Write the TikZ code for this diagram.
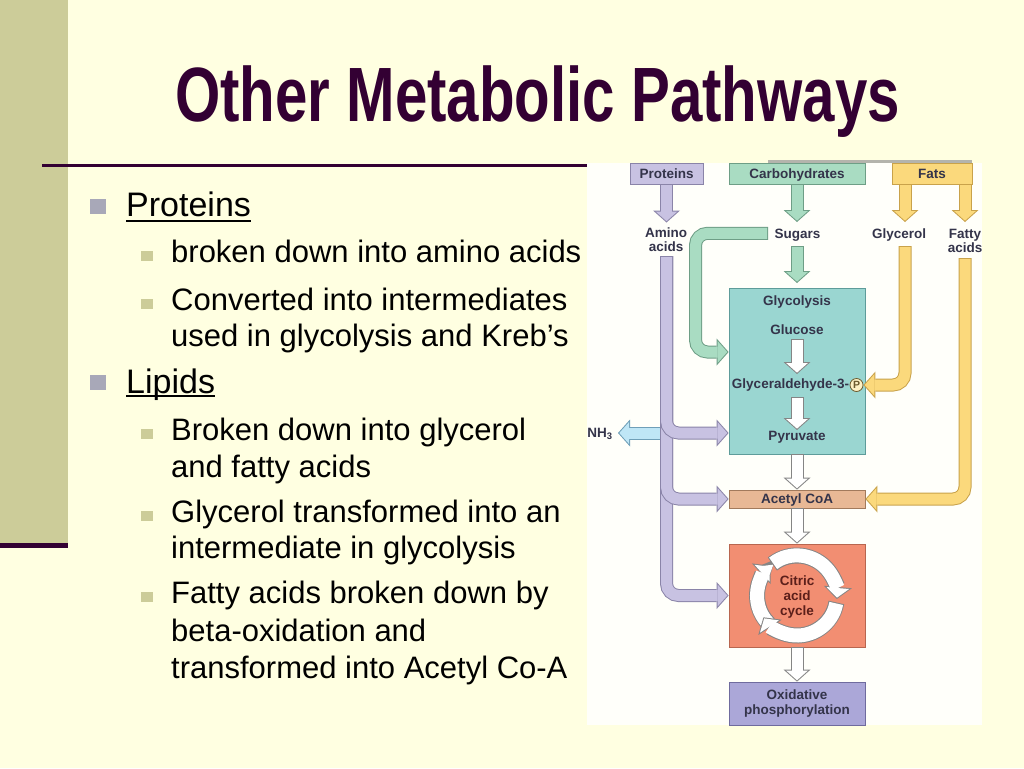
\documentclass[tikz,border=0pt]{standalone}
\usepackage{fontspec}
\usepackage{graphicx}
\setmainfont{Liberation Sans}
\usetikzlibrary{arrows.meta}

\definecolor{slidebg}{HTML}{FFFFE1}
\definecolor{barfill}{HTML}{CCCC99}
\definecolor{plum}{HTML}{330033}
\definecolor{headdot}{HTML}{A8A8B8}
\definecolor{linedot}{HTML}{CCCC99}
\definecolor{picbg}{HTML}{FFFFFA}
\definecolor{topgrey}{HTML}{B4B4AC}
\definecolor{lbltext}{HTML}{34344A}
\definecolor{citext}{HTML}{5C1F1A}
\definecolor{protfill}{HTML}{C8C2E2}
\definecolor{protline}{HTML}{8A84A8}
\definecolor{carbfill}{HTML}{A9DCC2}
\definecolor{carbline}{HTML}{6E9E86}
\definecolor{fatfill}{HTML}{FBD97C}
\definecolor{fatline}{HTML}{C9A24A}
\definecolor{glycfill}{HTML}{9AD6D1}
\definecolor{glycline}{HTML}{5E9C9A}
\definecolor{acetfill}{HTML}{E8B895}
\definecolor{acetline}{HTML}{A27A5C}
\definecolor{citfill}{HTML}{F28E72}
\definecolor{citline}{HTML}{B8664F}
\definecolor{oxfill}{HTML}{ABA7D8}
\definecolor{oxline}{HTML}{6F6B9E}
\definecolor{nhfill}{HTML}{BFE6F6}
\definecolor{nhline}{HTML}{6F9FB8}
\definecolor{whtfill}{HTML}{FFFFFF}
\definecolor{whtline}{HTML}{858585}
\definecolor{pfill}{HTML}{FDF1C4}
\definecolor{pline}{HTML}{6B5A2E}

\newcommand{\lblfont}{\bfseries\fontsize{13.5}{13.5}\selectfont}
\newcommand{\headfont}{\fontsize{34}{40}\selectfont}
\newcommand{\linefont}{\fontsize{31}{36}\selectfont}
\newcommand{\titlefnt}{\bfseries\fontsize{77}{80}\selectfont}

\tikzset{
  box/.style={draw, line width=0.8pt, inner sep=0pt, font=\lblfont, text=lbltext, align=center},
  onerow/.style={text height=9.7pt, text depth=0pt},
  lbl/.style={inner sep=0pt, font=\lblfont, text=lbltext, align=center},
  arrow back/.style={line width=13pt, rounded corners=12pt, -{Triangle[width=27pt,length=12pt,line width=0pt]}},
  arrow front/.style={line width=11pt, rounded corners=12pt, shorten <=1pt, shorten >=1.34pt, -{Triangle[width=21.7pt,length=9.66pt,line width=0pt]}},
  ring back/.style={line width=16pt, -{Triangle[width=28pt,length=12pt,line width=0pt]}},
  ring front/.style={line width=14pt, shorten <=1pt, shorten >=1.32pt, -{Triangle[width=22.6pt,length=9.68pt,line width=0pt]}},
  headline/.style={anchor=base west, inner sep=0pt, font=\headfont},
  bodyline/.style={anchor=base west, inner sep=0pt, font=\linefont},
}

\newcommand{\blockarrow}[3][arrow]{%
  \draw[#1 back, draw=#2line] #3;
  \draw[#1 front, draw=#2fill] #3;}

\begin{document}
\begin{tikzpicture}[x=1pt,y=-1pt]
	\useasboundingbox (0,0) rectangle (1024,768);
	\fill[slidebg] (0,0) rectangle (1024,768);
	\fill[barfill] (0,0) rectangle (68,543);
	\fill[plum] (0,543) rectangle (68,548);
	\draw[plum, line width=2.5pt] (42,165.5) -- (589,165.5);
	\node[anchor=base west, inner sep=0pt, text=plum, font=\titlefnt] (title) at (175,121.5) {\scalebox{0.756}[1]{Other Metabolic Pathways}};
	% bullet text
	\fill[headdot] (90,199) rectangle (106,214);
	\fill[headdot] (90,375) rectangle (106,390);
	\node[headline] (hprot) at (126,216.7) {Proteins};
	\node[headline] (hlip) at (126,393) {Lipids};
	\draw[line width=1.8pt] ([yshift=-4pt]hprot.base west) -- ([yshift=-4pt]hprot.base east);
	\draw[line width=1.8pt] ([yshift=-3pt]hlip.base west) -- ([yshift=-3pt]hlip.base east);
	\foreach \yy in {262,310,440,522,603}
		\fill[linedot] (141,\yy-11) rectangle (153,\yy-1);
	\foreach \yy/\txt [count=\i] in {262/broken down into amino acids, 310/Converted into intermediates, 346/used in glycolysis and Kreb’s, 440/Broken down into glycerol, 477/and fatty acids, 522/Glycerol transformed into an, 558/intermediate in glycolysis, 603/Fatty acids broken down by, 641/beta-oxidation and, 678/transformed into Acetyl Co-A}
		\node[bodyline] (line\i) at (171,\yy) {\txt};
	% pathway figure
	\fill[picbg] (587,163) rectangle (982,725);
	\fill[topgrey] (768,160) rectangle (972,163);
	\node[box, onerow, fill=protfill, draw=protline, minimum width=73pt, minimum height=21pt] (proteins) at (666.5,173.5) {Proteins};
	\node[box, onerow, fill=carbfill, draw=carbline, minimum width=136pt, minimum height=21pt] (carbs) at (797,173.5) {Carbohydrates};
	\node[box, onerow, fill=fatfill, draw=fatline, minimum width=80pt, minimum height=21pt] (fats) at (932,173.5) {Fats};
	\node[box, fill=glycfill, draw=glycline, minimum width=136pt, minimum height=166pt] (glycolysis) at (797,371) {};
	\node[box, onerow, fill=acetfill, draw=acetline, minimum width=136pt, minimum height=18pt] (acetyl) at (797,499) {Acetyl CoA};
	\node[box, fill=citfill, draw=citline, minimum width=136pt, minimum height=103pt] (citric) at (797,595.5) {};
	\node[box, fill=oxfill, draw=oxline, minimum width=136pt, minimum height=43pt, font=\bfseries\fontsize{13.5}{15}\selectfont] (oxphos) at (797,703.5) {Oxidative\\phosphorylation};
	\node[lbl] (amino) at (666,239.5) {Amino\\acids};
	\node[lbl] (sugars) at (797.5,235.5) {Sugars};
	\node[lbl] (glycerol) at (899,235.5) {Glycerol};
	\node[lbl] (fatty) at (965,241) {Fatty\\acids};
	\node[lbl] (glyctitle) at (797,302) {Glycolysis};
	\node[lbl] (glucose) at (797,330) {Glucose};
	\node[lbl] (g3p) at (790.5,385) {Glyceraldehyde-3-};
	\node[circle, draw=pline, fill=pfill, line width=0.8pt, inner sep=0pt, minimum size=13pt, text=pline, font=\bfseries\fontsize{10.5}{11}\selectfont] (pcirc) at (856.5,385) {P};
	\node[lbl] (pyruvate) at (797,437) {Pyruvate};
	\node[lbl] (nh3) at (600,434) {NH\textsubscript{3}};
	\coordinate (amtip) at (666.5,222.5);
	\coordinate (amtop) at (666.5,256);
	\coordinate (pyr) at (666.5,433);
	\coordinate (nhtip) at (618,433);
	\coordinate (sgtip) at (797,222);
	\coordinate (sgtop) at (797,246);
	\coordinate (sgend) at (797,283);
	\coordinate (gtail) at (768,233.3);
	\coordinate (gbend) at (695.5,352);
	\coordinate (glytip) at (905,222);
	\coordinate (glytop) at (905,246);
	\coordinate (fatip) at (965,222);
	\coordinate (fatop) at (965,258);
	\coordinate (w1) at (797,339);
	\coordinate (w2) at (797,374);
	\coordinate (w3) at (797,397);
	\coordinate (w4) at (797,430);
	% amino acids
	\blockarrow{prot}{(proteins.south) -- (amtip)}
	\blockarrow{nh}{(pyr) -- (nhtip)}
	\blockarrow{prot}{(amtop) |- (citric.west)}
	\blockarrow{prot}{(amtop) |- (acetyl.west)}
	\blockarrow{prot}{(amtop) |- (glycolysis.west |- pyr)}
	% sugars
	\blockarrow{carb}{(carbs.south) -- (sgtip)}
	\blockarrow{carb}{(sgtop) -- (sgend)}
	\blockarrow{carb}{(gtail) -| (gbend) -- (glycolysis.west |- gbend)}
	% fats
	\blockarrow{fat}{(fats.south -| glytop) -- (glytip)}
	\blockarrow{fat}{(fats.south -| fatop) -- (fatip)}
	\blockarrow{fat}{(glytop) |- (pcirc.east)}
	\blockarrow{fat}{(fatop) |- (acetyl.east)}
	% main chain
	\blockarrow{wht}{(w1) -- (w2)}
	\blockarrow{wht}{(w3) -- (w4)}
	\blockarrow{wht}{(glycolysis.south) -- (acetyl.north)}
	\blockarrow{wht}{(acetyl.south) -- (citric.north)}
	\blockarrow{wht}{(citric.south) -- (oxphos.north)}
	% cycle
	\blockarrow[ring]{wht}{([shift={(135:40)}]citric.center) arc[start angle=135, end angle=228, radius=40]}
	\blockarrow[ring]{wht}{([shift={(-128:40)}]citric.center) arc[start angle=-128, end angle=5, radius=40]}
	\blockarrow[ring]{wht}{([shift={(10:40)}]citric.center) arc[start angle=10, end angle=147, radius=40]}
	\node[lbl, text=citext, font=\bfseries\fontsize{13.5}{14.5}\selectfont] (cyclelbl) at (797,597) {Citric\\acid\\cycle};
\end{tikzpicture}
\end{document}
